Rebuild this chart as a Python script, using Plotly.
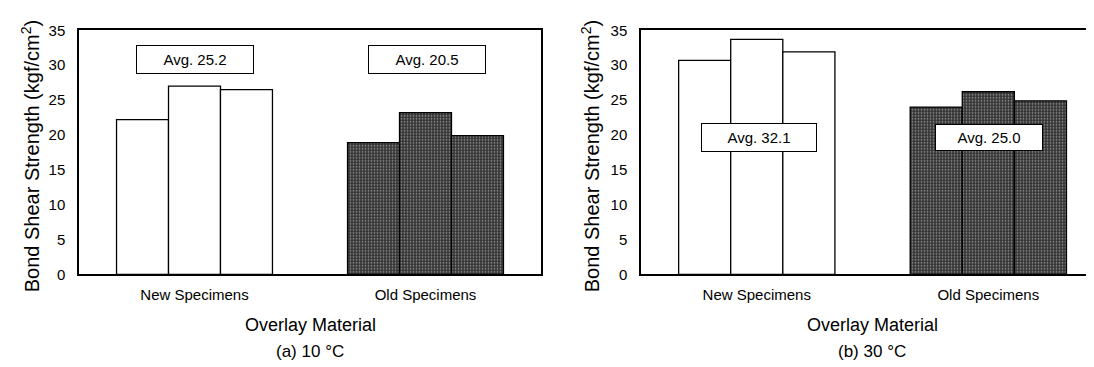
import plotly.graph_objects as go

categories = ["New Specimens", "Old Specimens"]
new_10 = [22.2, 27.0, 26.5]
old_10 = [18.9, 23.2, 19.9]
new_30 = [30.7, 33.7, 31.9]
old_30 = [24.0, 26.2, 24.9]
avg_10 = ["Avg. 25.2", "Avg. 20.5"]
avg_30 = ["Avg. 32.1", "Avg. 25.0"]
y_ticks = [0, 5, 10, 15, 20, 25, 30, 35]
y_title = "Bond Shear Strength (kgf/cm<sup>2</sup>)"
x_title = "Overlay Material"
panel_titles = ["(a) 10 °C", "(b) 30 °C"]

FONT = "Liberation Sans, Arial, sans-serif"
W, H = 1094, 367

fig = go.Figure()

def add_panel(new_vals, old_vals, xa, ya):
    for i in range(3):
        fig.add_trace(go.Bar(
            x=categories,
            y=[new_vals[i], old_vals[i]],
            xaxis=xa, yaxis=ya,
            showlegend=False,
            marker=dict(
                color=["white", "#353535"],
                line=dict(color="black", width=1.3),
                pattern=dict(
                    shape=["", "."],
                    fgcolor=["white", "#8c8c8c"],
                    bgcolor=["white", "#2e2e2e"],
                    size=3,
                    solidity=0.25,
                    fillmode="overlay",
                ),
            ),
        ))

add_panel(new_10, old_10, "x", "y")
add_panel(new_30, old_30, "x2", "y2")

ytop = 1 - 14 / H
ybot = 1 - 270 / H

axis_common = dict(
    showline=True, linecolor="black", linewidth=1.5,
    showgrid=False, zeroline=False,
    tickfont=dict(family=FONT, size=15, color="black"),
)
ytick_style = dict(ticks="outside", ticklen=9, tickcolor="rgba(0,0,0,0)")

fig.update_layout(
    width=W, height=H,
    margin=dict(l=0, r=0, t=0, b=0),
    paper_bgcolor="white", plot_bgcolor="white",
    barmode="group", bargap=0.325, bargroupgap=0,
    font=dict(family=FONT, color="black"),
    xaxis=dict(domain=[71 / W, 533 / W], anchor="y", range=[-0.5, 1.5],
               mirror=True, ticks="", ticklabelstandoff=6, **axis_common),
    yaxis=dict(domain=[ybot, ytop], anchor="x", range=[0, 35],
               tickvals=y_ticks, mirror=True, **ytick_style, **axis_common),
    xaxis2=dict(domain=[633 / W, 1.0], anchor="y2", range=[-0.5, 1.491],
                mirror=True, ticks="", ticklabelstandoff=6, **axis_common),
    yaxis2=dict(domain=[ybot, ytop], anchor="x2", range=[0, 35],
                tickvals=y_ticks, mirror=False, **ytick_style, **axis_common),
)

# Average boxes
box_specs = [
    ("x", "y", 0.0, 30.8, avg_10[0], 112, 23),
    ("x", "y", 1.005, 30.8, avg_10[1], 112, 23),
    ("x2", "y2", 0.01, 19.6, avg_30[0], 110, 23),
    ("x2", "y2", 1.003, 19.7, avg_30[1], 102, 21),
]
for xr, yr, xv, yv, txt, w, h in box_specs:
    fig.add_annotation(
        xref=xr, yref=yr, x=xv, y=yv, text=txt, showarrow=False,
        font=dict(family=FONT, size=15, color="black"),
        bgcolor="white", bordercolor="black", borderwidth=1, borderpad=2,
        width=w, height=h,
    )

# Axis titles and panel captions
for cx, tx in [(22, y_title), (582, y_title)]:
    fig.add_annotation(
        xref="paper", yref="paper", x=cx / W, y=1 - 146 / H,
        text=tx, textangle=-90, showarrow=False,
        font=dict(family=FONT, size=20, color="black"),
        xanchor="center", yanchor="middle",
    )

for cx, cap in [(302, panel_titles[0]), (864, panel_titles[1])]:
    fig.add_annotation(
        xref="paper", yref="paper", x=cx / W, y=1 - 323 / H,
        text=x_title, showarrow=False,
        font=dict(family=FONT, size=18, color="black"),
        xanchor="center", yanchor="middle",
    )
    fig.add_annotation(
        xref="paper", yref="paper", x=cx / W, y=1 - 351 / H,
        text=cap, showarrow=False,
        font=dict(family=FONT, size=17, color="black"),
        xanchor="center", yanchor="middle",
    )

fig.write_html("out.html")
